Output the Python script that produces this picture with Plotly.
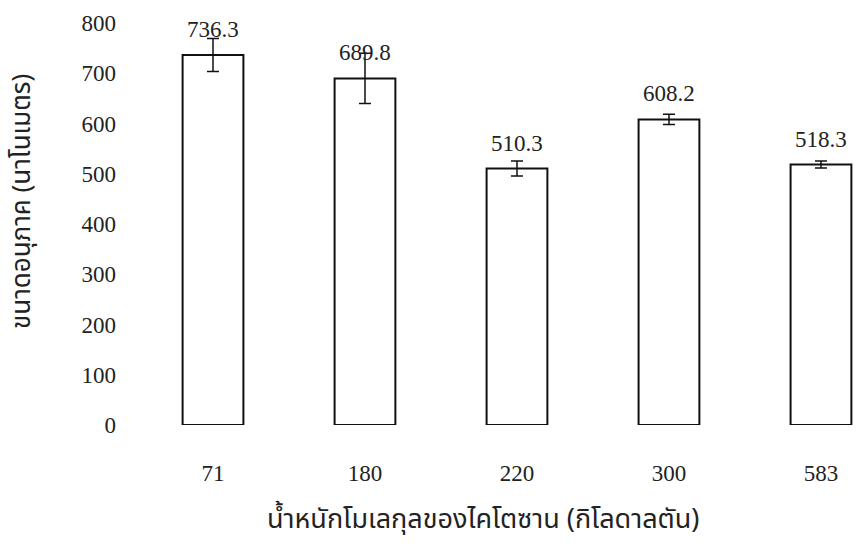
import plotly.graph_objects as go

# Chitosan molecular weight (kDa) vs. particle size (nm)
categories = ["71", "180", "220", "300", "583"]
sizes = [736.3, 689.8, 510.3, 608.2, 518.3]
errors = [33, 50, 15, 10, 7]
y_ticks = [0, 100, 200, 300, 400, 500, 600, 700, 800]

x_title = "น้ำหนักโมเลกุลของไคโตซาน (กิโลดาลตัน)"
y_title = "ขนาดอนุภาค (นาโนเมตร)"

serif = "Liberation Serif, Times New Roman, serif"
thai = "Noto Sans Thai, Loma, Garuda, Tlwg Typo, DejaVu Sans, sans-serif"

fig = go.Figure()
fig.add_trace(go.Bar(
    x=categories,
    y=sizes,
    marker=dict(color="white", line=dict(color="#111", width=2)),
    error_y=dict(type="data", array=errors, visible=True,
                 color="#111", thickness=1.5, width=6),
    width=0.4,
    showlegend=False,
))

# value labels above each bar
for i, v in enumerate(sizes):
    fig.add_annotation(x=i, y=v, text=f"{v:.1f}", showarrow=False,
                       xref="x", yref="y",
                       yanchor="bottom", yshift=11,
                       font=dict(family=serif, size=23, color="#222"))

fig.add_annotation(xref="paper", yref="paper", x=0.4806, y=-0.2363,
                   xanchor="center", yanchor="middle",
                   text=x_title, showarrow=False,
                   font=dict(family=thai, size=27, color="#222"))
fig.add_annotation(xref="paper", yref="paper", x=-0.1597, y=0.5547,
                   xanchor="center", yanchor="middle",
                   text=y_title, showarrow=False, textangle=-90,
                   font=dict(family=thai, size=26, color="#222"))

fig.update_layout(
    width=857, height=544,
    margin=dict(l=137, r=0, t=23, b=119),
    paper_bgcolor="white", plot_bgcolor="white",
    font=dict(family=serif, size=23, color="#222"),
    xaxis=dict(type="category", range=[-0.5, 4.237], showline=False,
               showgrid=False, zeroline=False, ticks="",
               ticklabelstandoff=32),
    yaxis=dict(range=[0, 800], tickvals=y_ticks, showline=False,
               showgrid=False, zeroline=False, ticks="",
               ticklabelstandoff=20),
)

fig.write_html("out.html")
